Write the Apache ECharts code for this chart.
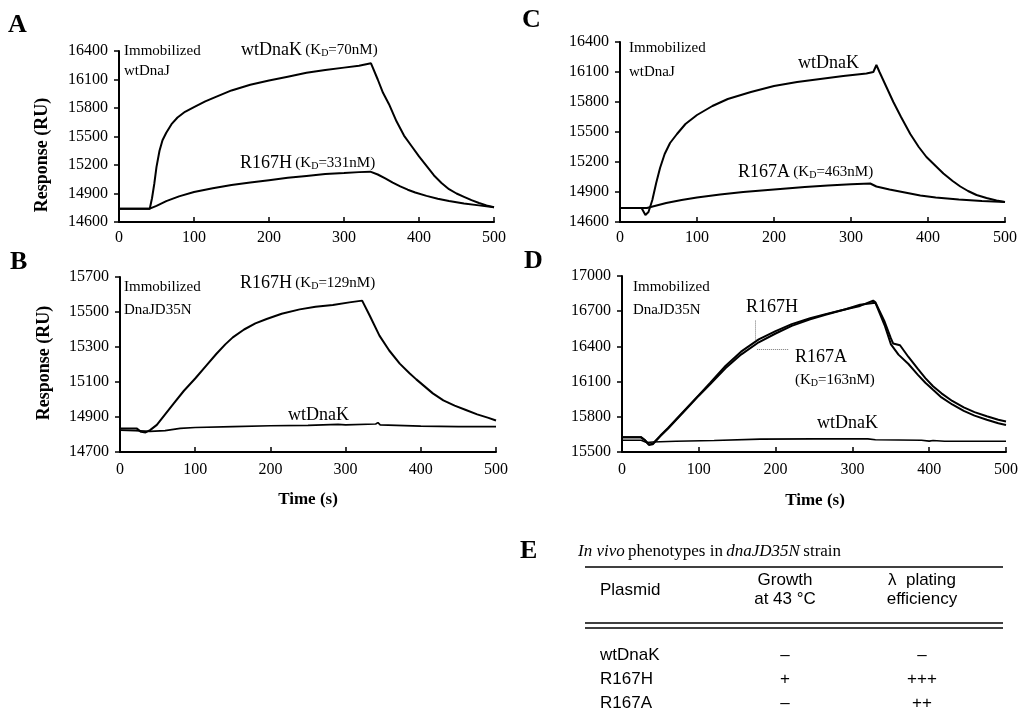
<!DOCTYPE html>
<html><head><meta charset="utf-8">
<script src="https://cdn.jsdelivr.net/npm/echarts@6/dist/echarts.min.js"></script>
<style>html,body{margin:0;padding:0;background:#fff}#c{width:1023px;height:728px}</style>
</head><body><div id="c"></div>
<script>
// ---------- Panel A (immobilized wtDnaJ) ----------
const tA_wt = [0,41,44,47,50,54,58,63,70,78,88,100,115,130,150,175,200,225,250,275,300,320,336,345,352,360,370,380,390,400,410,420,430,440,450,460,470,480,490,500];
const vA_wt = [14740,14740,14850,15000,15180,15350,15460,15540,15630,15700,15760,15810,15870,15920,15985,16045,16090,16130,16170,16200,16225,16245,16270,16100,15960,15840,15660,15510,15400,15290,15190,15090,15010,14945,14900,14865,14830,14800,14775,14755];
const tA_h = [0,41,50,63,80,100,125,150,175,200,225,250,275,300,320,335,345,355,365,375,385,395,410,425,440,460,480,500];
const vA_h = [14740,14740,14770,14820,14870,14915,14955,14990,15015,15040,15065,15085,15105,15115,15125,15130,15100,15060,15015,14975,14940,14910,14875,14845,14820,14795,14775,14755];
// ---------- Panel B (immobilized DnaJD35N) ----------
const tB_h = [0,22,28,34,40,49,60,71,85,100,115,128,140,150,165,180,195,215,239,260,283,305,322,332,345,358,372,385,394,405,416,430,445,460,475,490,500];
const vB_h = [14835,14835,14815,14812,14825,14855,14915,14975,15050,15120,15195,15260,15315,15355,15400,15435,15460,15490,15515,15530,15540,15555,15565,15480,15365,15280,15205,15150,15115,15075,15035,14995,14965,14940,14915,14895,14880];
const tB_wt = [0,20,40,60,80,100,150,200,250,290,300,340,343,346,400,450,500];
const vB_wt = [14825,14822,14818,14822,14835,14840,14845,14850,14852,14858,14855,14860,14868,14855,14848,14845,14845];
// ---------- Panel C (immobilized wtDnaJ) ----------
const tC_wt = [0,28,33,37,42,47,52,58,65,74,85,100,120,140,170,200,230,260,290,320,329,333,337,346,355,365,377,388,398,410,420,432,442,452,463,476,489,500];
const vC_wt = [14740,14740,14670,14700,14820,14990,15140,15280,15390,15480,15580,15670,15760,15830,15900,15960,16000,16030,16060,16085,16100,16170,16100,15950,15800,15650,15480,15350,15250,15160,15085,15010,14955,14910,14870,14840,14815,14800];
const tC_a = [0,35,40,60,80,100,130,160,200,240,270,300,325,333,350,370,390,410,440,470,500];
const vC_a = [14740,14740,14750,14790,14820,14845,14875,14900,14925,14950,14965,14978,14985,14955,14925,14895,14865,14845,14825,14810,14800];
// ---------- Panel D (immobilized DnaJD35N) ----------
const tD_h = [0,25,30,35,40,50,60,70,85,100,115,135,155,178,200,221,245,265,290,310,327,330,342,350,353,362,373,385,395,405,416,430,445,459,475,490,500];
const vD_h = [15625,15625,15600,15565,15570,15640,15705,15775,15880,15985,16090,16235,16355,16460,16530,16590,16640,16675,16715,16745,16790,16775,16610,16470,16425,16410,16310,16210,16130,16060,16000,15935,15880,15840,15805,15775,15760];
const tD_a = [0,25,30,35,40,50,60,70,85,100,115,135,155,178,200,221,245,265,290,310,327,330,342,350,360,373,385,395,405,416,430,445,459,475,490,500];
const vD_a = [15625,15625,15600,15560,15565,15635,15700,15770,15875,15980,16080,16215,16330,16435,16510,16575,16630,16670,16715,16755,16770,16770,16580,16420,16330,16250,16160,16090,16030,15965,15905,15850,15810,15775,15745,15730];
const tD_wt = [0,25,32,40,70,120,180,250,320,330,390,400,405,420,500];
const vD_wt = [15600,15600,15580,15585,15592,15598,15610,15612,15612,15605,15600,15593,15598,15592,15592];
// leader lines in D (data coords: [t, RU])
const leaderD_v = [[174,16620],[174,16450]];
const leaderD_h = [[176,16375],[217,16375]];

// axes
const xTicks = {min:0, max:500, interval:100};
const yA = {min:14600, max:16400, interval:300};
const yB = {min:14700, max:15700, interval:200};
const yC = {min:14600, max:16400, interval:300};
const yD = {min:15500, max:17000, interval:300};

// Table E
const tableHeader = ['Plasmid', 'Growth\nat 43 °C', 'λ  plating\nefficiency'];
const tablePlasmids = ['wtDnaK','R167H','R167A'];
const tableGrowth = ['–','+','–'];
const tableLambda = ['–','+++','++'];

const SERIF = 'Liberation Serif';
const SANS = 'Liberation Sans';
const zip = (t,v) => t.map((x,i)=>[x,v[i]]);

function xAxis(gi, margin){
  return {type:'value', gridIndex:gi, min:xTicks.min, max:xTicks.max, interval:xTicks.interval,
    axisLine:{show:true, onZero:false, lineStyle:{color:'#000', width:2}},
    axisTick:{show:true, inside:true, length:5, lineStyle:{color:'#000', width:1.5}},
    axisLabel:{color:'#000', fontFamily:SERIF, fontSize:16, margin:margin, formatter:v=>String(v)},
    splitLine:{show:false}};
}
function yAxis(gi, r){
  return {type:'value', gridIndex:gi, min:r.min, max:r.max, interval:r.interval,
    axisLine:{show:true, onZero:false, lineStyle:{color:'#000', width:2}},
    axisTick:{show:true, inside:false, length:5, lineStyle:{color:'#000', width:1.5}},
    axisLabel:{color:'#000', fontFamily:SERIF, fontSize:16, margin:11, formatter:v=>String(v)},
    splitLine:{show:false}};
}
function line(name, gi, t, v, extra){
  return Object.assign({type:'line', name, xAxisIndex:gi, yAxisIndex:gi, data:zip(t,v),
    showSymbol:false, symbol:'none', silent:true, animation:false,
    lineStyle:{color:'#000', width:2}}, extra||{});
}

function txt(x, y, text, font, opts){
  return Object.assign({type:'text', x, y, silent:true,
    style:Object.assign({text, font, fill:'#000', align:'left', verticalAlign:'middle'}, (opts&&opts.style)||{})},
    opts && opts.rotation!=null ? {rotation:opts.rotation} : {});
}
function kdText(x, y, name, kd, big){
  return {type:'text', x, y, silent:true, style:{
    text:'{m|'+name+'} {k|(K}{s|D}{k|='+kd+')}', fill:'#000', align:'left', verticalAlign:'middle',
    rich:{
      m:{font:(big||18)+'px '+SERIF, fill:'#000'},
      k:{font:'15px '+SERIF, fill:'#000'},
      s:{font:'10px '+SERIF, fill:'#000', padding:[7,0,0,0]}
    }}};
}
function hline(x1,x2,y,w){
  return {type:'line', silent:true, shape:{x1, y1:y, x2, y2:y}, style:{stroke:'#000', lineWidth:w||1.5}};
}

const graphics = [
  // panel letters
  txt(8, 25, 'A', 'bold 26px '+SERIF),
  txt(10, 262, 'B', 'bold 26px '+SERIF),
  txt(522, 20, 'C', 'bold 26px '+SERIF),
  txt(524, 261, 'D', 'bold 26px '+SERIF),
  txt(520, 551, 'E', 'bold 26px '+SERIF),
  // axis titles
  txt(42, 155, 'Response (RU)', 'bold 18px '+SERIF, {rotation:Math.PI/2, style:{align:'center'}}),
  txt(44, 363, 'Response (RU)', 'bold 18px '+SERIF, {rotation:Math.PI/2, style:{align:'center'}}),
  txt(308, 500, 'Time (s)', 'bold 17px '+SERIF, {style:{align:'center'}}),
  txt(815, 501, 'Time (s)', 'bold 17px '+SERIF, {style:{align:'center'}}),
  // panel A annotations
  txt(124, 51, 'Immobilized', '15px '+SERIF),
  txt(124, 71, 'wtDnaJ', '15px '+SERIF),
  kdText(241, 50, 'wtDnaK', '70nM'),
  kdText(240, 163, 'R167H', '331nM'),
  // panel B
  txt(124, 287, 'Immobilized', '15px '+SERIF),
  txt(124, 310, 'DnaJD35N', '15px '+SERIF),
  kdText(240, 283, 'R167H', '129nM'),
  txt(288, 415, 'wtDnaK', '18px '+SERIF),
  // panel C
  txt(629, 48, 'Immobilized', '15px '+SERIF),
  txt(629, 72, 'wtDnaJ', '15px '+SERIF),
  txt(798, 63, 'wtDnaK', '18px '+SERIF),
  kdText(738, 172, 'R167A', '463nM'),
  // panel D
  txt(633, 287, 'Immobilized', '15px '+SERIF),
  txt(633, 310, 'DnaJD35N', '15px '+SERIF),
  txt(746, 307, 'R167H', '18px '+SERIF),
  txt(795, 357, 'R167A', '18px '+SERIF),
  {type:'text', x:795, y:380, silent:true, style:{text:'{k|(K}{s|D}{k|=163nM)}', align:'left', verticalAlign:'middle',
    rich:{k:{font:'15px '+SERIF, fill:'#000'}, s:{font:'10px '+SERIF, fill:'#000', padding:[7,0,0,0]}}}},
  txt(817, 423, 'wtDnaK', '18px '+SERIF),
  // panel E table
  {type:'text', x:578, y:552, silent:true, style:{text:'{i|In vivo} {r|phenotypes in} {i|dnaJD35N} {r|strain}', align:'left', verticalAlign:'middle',
    rich:{i:{font:'italic 17px '+SERIF, fill:'#000'}, r:{font:'17px '+SERIF, fill:'#000'}}}},
  hline(585, 1003, 567, 1.5),
  txt(600, 590, tableHeader[0], '17px '+SANS),
  txt(785, 590, tableHeader[1], '17px '+SANS, {style:{align:'center', lineHeight:19}}),
  txt(922, 590, tableHeader[2], '17px '+SANS, {style:{align:'center', lineHeight:19}}),
  hline(585, 1003, 623, 1.5),
  hline(585, 1003, 628, 1.5)
];
tablePlasmids.forEach((p,i)=>{
  const y = 655 + i*24;
  graphics.push(txt(600, y, p, '17px '+SANS));
  graphics.push(txt(785, y, tableGrowth[i], '17px '+SANS, {style:{align:'center'}}));
  graphics.push(txt(922, y, tableLambda[i], '17px '+SANS, {style:{align:'center'}}));
});

const chart = echarts.init(document.getElementById('c'), null, {renderer:'canvas'});
chart.setOption({
  backgroundColor:'#fff',
  animation:false,
  grid:[
    {left:119, top:51, width:375, height:171, outerBoundsMode:'none'},
    {left:120, top:277, width:376, height:175, outerBoundsMode:'none'},
    {left:620, top:42, width:385, height:180, outerBoundsMode:'none'},
    {left:622, top:276, width:384, height:176, outerBoundsMode:'none'}
  ],
  xAxis:[xAxis(0,8), xAxis(1,10), xAxis(2,8), xAxis(3,10)],
  yAxis:[yAxis(0,yA), yAxis(1,yB), yAxis(2,yC), yAxis(3,yD)],
  series:[
    line('A wtDnaK',0,tA_wt,vA_wt),
    line('A R167H',0,tA_h,vA_h),
    line('B R167H',1,tB_h,vB_h),
    line('B wtDnaK',1,tB_wt,vB_wt,{lineStyle:{color:'#000',width:1.6}}),
    line('C wtDnaK',2,tC_wt,vC_wt),
    line('C R167A',2,tC_a,vC_a),
    line('D R167H',3,tD_h,vD_h),
    line('D R167A',3,tD_a,vD_a,{markLine:{silent:true, symbol:'none', label:{show:false},
      lineStyle:{type:'dotted', color:'#777', width:1},
      data:[[{coord:leaderD_v[0]},{coord:leaderD_v[1]}],[{coord:leaderD_h[0]},{coord:leaderD_h[1]}]]}}),
    line('D wtDnaK',3,tD_wt,vD_wt,{lineStyle:{color:'#000',width:1.6}})
  ],
  graphic:graphics
});
</script></body></html>
